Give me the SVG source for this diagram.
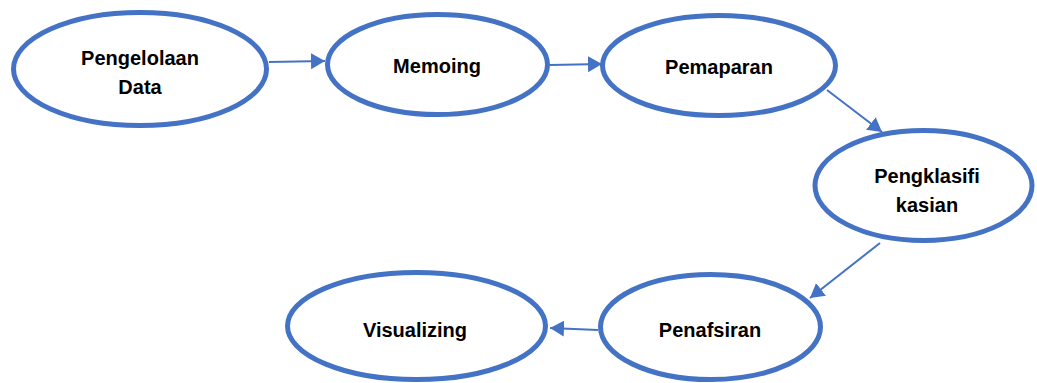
<svg xmlns="http://www.w3.org/2000/svg" width="1037" height="383" viewBox="0 0 1037 383">
<style>
.node ellipse{fill:#fff;stroke:#4472C4;stroke-width:5}
.node text{font-family:"Liberation Sans",Arial,sans-serif;font-weight:bold;font-size:20px;fill:#000;text-anchor:middle}
.conn line{stroke:#4472C4;stroke-width:2}
</style>
<defs>
<marker id="ah" markerUnits="userSpaceOnUse" markerWidth="14" markerHeight="16" viewBox="0 0 14 16" refX="14" refY="8" orient="auto">
<path d="M0,0 L14,8 L0,16 Z" fill="#4472C4"/>
</marker>
</defs>
<rect width="1037" height="383" fill="#fff"/>
<g id="connectors" class="conn">
<line x1="269" y1="62" x2="325" y2="61" marker-end="url(#ah)"/>
<line x1="550" y1="65" x2="602" y2="64" marker-end="url(#ah)"/>
<line x1="827" y1="90" x2="882" y2="132" marker-end="url(#ah)"/>
<line x1="880" y1="243" x2="810" y2="298" marker-end="url(#ah)"/>
<line x1="598" y1="330" x2="550" y2="328" marker-end="url(#ah)"/>
</g>
<g id="node-pengelolaan" class="node">
<ellipse cx="140" cy="69" rx="126.5" ry="56.5"/>
<text x="140" y="65">Pengelolaan</text>
<text x="140" y="94">Data</text>
</g>
<g id="node-memoing" class="node">
<ellipse cx="437.5" cy="64.5" rx="110" ry="50"/>
<text x="437" y="73">Memoing</text>
</g>
<g id="node-pemaparan" class="node">
<ellipse cx="719" cy="65.5" rx="116.5" ry="50"/>
<text x="719" y="74">Pemaparan</text>
</g>
<g id="node-pengklasifikasian" class="node">
<ellipse cx="923.5" cy="185.5" rx="108.5" ry="55"/>
<text x="927" y="183">Pengklasifi</text>
<text x="927" y="212">kasian</text>
</g>
<g id="node-penafsiran" class="node">
<ellipse cx="710.5" cy="327" rx="110" ry="52.5"/>
<text x="710" y="337">Penafsiran</text>
</g>
<g id="node-visualizing" class="node">
<ellipse cx="416.5" cy="326" rx="129" ry="53.5"/>
<text x="415" y="337">Visualizing</text>
</g>
</svg>
